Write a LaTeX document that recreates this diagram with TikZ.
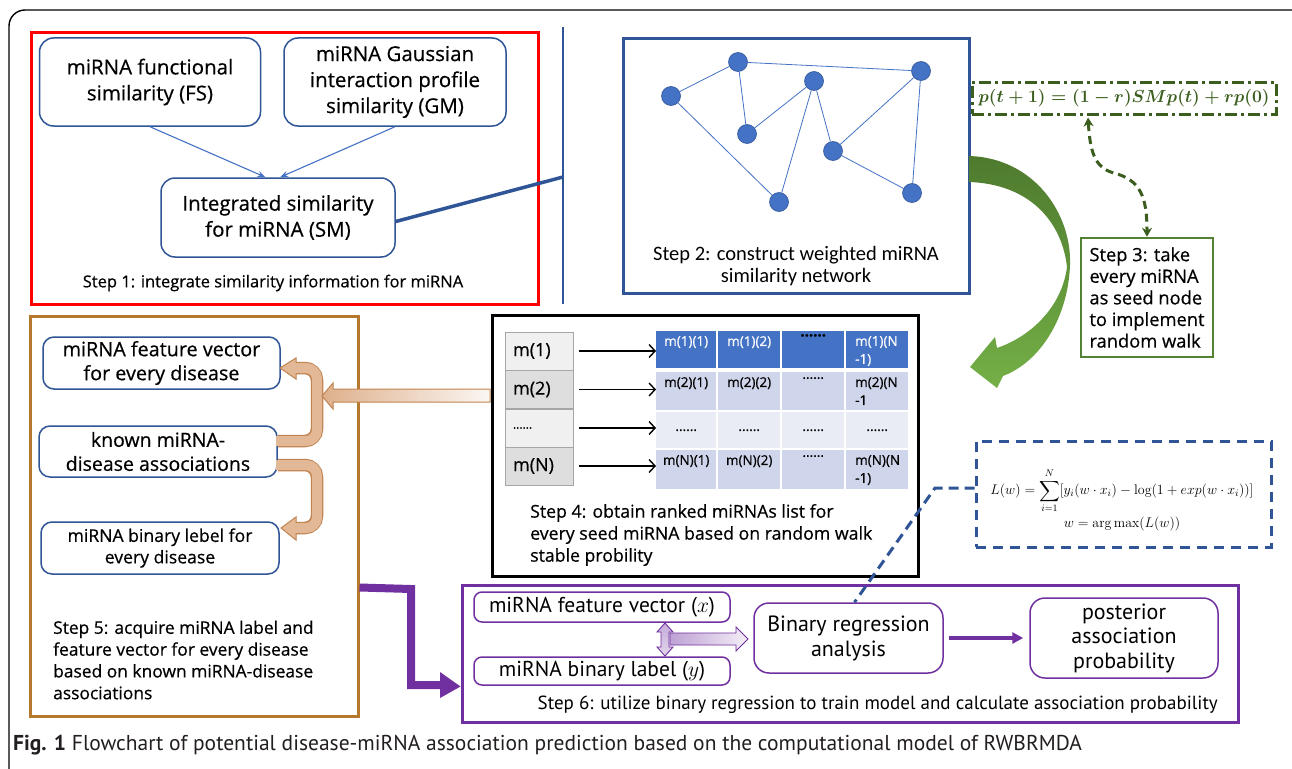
\RequirePackage{fix-cm}
\documentclass[tikz,border=0pt]{standalone}
\usepackage{amsmath}
\usepackage{fontspec}
\usetikzlibrary{arrows.meta,calc}
\newfontfamily\fyh{Open Sans}[RawFeature={embolden=0.5}]
\newfontfamily\fcal{Carlito}
\newfontfamily\fnar{PT Sans}
\definecolor{mblue}{HTML}{2F5597}
\definecolor{nblue}{HTML}{4472C4}
\definecolor{fgreen}{HTML}{3B5E1E}
\definecolor{sgreen}{HTML}{548235}
\definecolor{dgreen}{HTML}{4E7A2E}
\definecolor{lgreen}{HTML}{74B046}
\definecolor{brn}{HTML}{B5782C}
\definecolor{brline}{HTML}{C1834F}
\definecolor{brfill}{HTML}{E2B896}
\definecolor{purp}{HTML}{7030A0}
\definecolor{rowa}{HTML}{CFD5EA}
\definecolor{rowb}{HTML}{E9EBF5}
\definecolor{lcA}{HTML}{F0F0F0}
\definecolor{lcB}{HTML}{DEDEDE}
\definecolor{capc}{HTML}{231F20}
\tikzset{
  sbox/.style={draw=mblue, line width=1.5, rounded corners=14, align=center, inner sep=0,
    font=\fyh\fontsize{20.5}{26}\selectfont},
  s5box/.style={draw=mblue, line width=1.5, rounded corners=11, align=center, inner sep=0},
  pbox/.style={draw=purp, line width=1.5, rounded corners=8, align=center, inner sep=0,
    font=\fnar\fontsize{21.5}{24.5}\selectfont},
  barrow/.style={nblue, line width=1.1, -{Stealth[length=8,width=6]}},
  netn/.style={circle, fill=nblue, draw=mblue, line width=0.6, minimum size=19, inner sep=0},
  nete/.style={nblue, line width=0.8},
  lcell/.style={draw=gray!70, line width=0.8, minimum width=68, minimum height=38, inner sep=0,
    text width=52, align=left, font=\fyh\fontsize{18}{20}\selectfont},
  gcell/.style={inner sep=0, anchor=north west},
  cellt/.style={inner sep=0, font=\fyh\fontsize{13.5}{18}\selectfont},
  marrow/.style={black, line width=1.4, -{Straight Barb[length=6,width=13]}},
}
\begin{document}
\begin{tikzpicture}[x=1pt,y=-1pt]
\useasboundingbox (0,0) rectangle (1292,768);
\fill[white] (0,0) rectangle (1292,768);
\begin{scope}
\clip (0,0) rectangle (1292,768);
\draw[line width=1.4, rounded corners=16] (9,10) rectangle (1320,800);
\end{scope}

% ---------- Step 1 ----------
\node[draw=red, line width=3, minimum width=507, minimum height=271, inner sep=0] (s1) at (284.5,168.5) {};
\node[sbox, minimum width=221, minimum height=88] (fs) at (150,82) {miRNA functional\\similarity (FS)};
\node[sbox, minimum width=222, minimum height=88] (gm) at (395,82) {miRNA Gaussian\\interaction profile\\similarity (GM)};
\node[sbox, minimum width=234, minimum height=79] (sm) at (278,217.5) {Integrated similarity\\for miRNA (SM)};
\draw[barrow] (fs.south) -- ($(sm.north)+(-12.5,0)$);
\draw[barrow] (gm.south) -- ($(sm.north)+(2,0)$);
\node[font=\fyh\fontsize{16.5}{18}\selectfont, inner sep=0] (t1) at (273,283) {Step 1: integrate similarity information for miRNA};
\coordinate (vt) at (563,27);
\coordinate (vb) at (563,304);
\coordinate (vj) at (563,177);
\draw[mblue, line width=2.2] (vt) -- (vb);
\draw[mblue, line width=3.5] ($(sm.east)+(0,4)$) -- (vj);

% ---------- Step 2 ----------
\node[draw=mblue, line width=3, minimum width=346, minimum height=254, inner sep=0] (s2) at (796,166) {};
\node[netn] (n1) at (738,62) {};
\node[netn] (n2) at (671,96) {};
\node[netn] (n3) at (921,71) {};
\node[netn] (n4) at (814,81) {};
\node[netn] (n5) at (747,134) {};
\node[netn] (n6) at (833,151) {};
\node[netn] (n7) at (779,202) {};
\node[netn] (n8) at (912,193) {};
\draw[nete] (n2) -- (n1);
\draw[nete] (n1) -- (n3);
\draw[nete] (n1) -- (n5);
\draw[nete] (n5) -- (n4);
\draw[nete] (n4) -- (n7);
\draw[nete] (n2) -- (n7);
\draw[nete] (n4) -- (n6);
\draw[nete] (n6) -- (n3);
\draw[nete] (n6) -- (n8);
\draw[nete] (n3) -- (n8);
\node[font=\fcal\fontsize{20.5}{22}\selectfont, align=center, inner sep=0] (t2) at (796,266) {Step 2: construct weighted miRNA\\similarity network};

% ---------- formula / Step 3 ----------
\node[draw=fgreen, line width=3, dash pattern=on 12pt off 4pt on 3pt off 4pt, minimum width=304, minimum height=32, inner sep=0, text=fgreen, font=\fontsize{17.5}{20}\selectfont] (fb) at (1124,98) {$\boldsymbol{p(t+1)=(1-r)SMp(t)+rp(0)}$};
\node[draw=sgreen, line width=2.5, minimum width=132, minimum height=119, inner sep=0, align=left, font=\fyh\fontsize{18.3}{21.6}\selectfont] (s3) at (1147,297.5) {Step 3: take\\every miRNA\\as seed node\\to implement\\random walk};
\draw[fgreen, line width=3, dash pattern=on 8pt off 5pt, {Stealth[length=9,width=10]}-{Stealth[length=9,width=10]}] ($(fb.south)+(-36,2)$) .. controls (1090,150) and (1094,168) .. (1114,173) .. controls (1140,180) and (1147,196) .. (s3.north);
\shade[top color=dgreen, bottom color=lgreen, draw=none]
  (969,156) .. controls (1035,158) and (1072,215) .. (1070,265)
  .. controls (1068,318) and (1040,362) .. (1003,376) -- (997,388) -- (970,367) -- (995,337) -- (997,348)
  .. controls (1032,336) and (1062,306) .. (1067,267)
  .. controls (1062,222) and (1030,184) .. (969,182) -- cycle;

% ---------- Step 4 ----------
\node[draw=black, line width=3, minimum width=426, minimum height=261, inner sep=0] (s4) at (705,445.5) {};
\node[lcell, fill=lcA] (l1) at (539,351) {m(1)};
\node[lcell, fill=lcB] (l2) at (539,389.5) {m(2)};
\node[lcell, fill=lcA, font=\fyh\fontsize{12}{14}\selectfont] (l3) at (539,428) {......};
\node[lcell, fill=lcB] (l4) at (539,466) {m(N)};
\foreach \r/\y/\h/\c in {1/331/37/nblue, 2/372/38/rowa, 3/412/36/rowb, 4/450/39/rowa}{
  \foreach \k/\x/\w in {1/656/60, 2/718/62, 3/782/62, 4/846/62}{
    \node[gcell, fill=\c, minimum width=\w, minimum height=\h] (c\r\k) at (\x,\y) {};
  }
}
\node[cellt, text=white, anchor=north] (t11) at ($(c11.north)+(0,5)$) {m(1)(1)};
\node[cellt, text=white, anchor=north] (t12) at ($(c12.north)+(0,5)$) {m(1)(2)};
\node[cellt, text=black, anchor=north, font=\fyh\bfseries\fontsize{15}{18}\selectfont] (t13) at ($(c13.north)+(0,3)$) {......};
\node[cellt, text=white, anchor=north west, align=left] (t14) at ($(c14.north west)+(9,5)$) {m(1)(N\\-1)};
\node[cellt, anchor=north] (t21) at ($(c21.north)+(0,5)$) {m(2)(1)};
\node[cellt, anchor=north] (t22) at ($(c22.north)+(0,5)$) {m(2)(2)};
\node[cellt, anchor=north] (t23) at ($(c23.north)+(0,5)$) {......};
\node[cellt, anchor=north west, align=left] (t24) at ($(c24.north west)+(9,5)$) {m(2)(N\\-1};
\node[cellt] (t31) at (c31) {......};
\node[cellt] (t32) at (c32) {......};
\node[cellt] (t33) at (c33) {......};
\node[cellt] (t34) at (c34) {......};
\node[cellt, anchor=north] (t41) at ($(c41.north)+(0,5)$) {m(N)(1)};
\node[cellt, anchor=north] (t42) at ($(c42.north)+(0,5)$) {m(N)(2)};
\node[cellt, anchor=north] (t43) at ($(c43.north)+(0,5)$) {......};
\node[cellt, anchor=north west, align=left] (t44) at ($(c44.north west)+(9,5)$) {m(N)(N\\-1)};
\draw[marrow] ($(l1.east)+(6,0)$) -- (c11.west |- l1.east);
\draw[marrow] ($(l2.east)+(6,0)$) -- (c21.west |- l2.east);
\draw[marrow] ($(l3.east)+(6,0)$) -- (c31.west |- l3.east);
\draw[marrow] ($(l4.east)+(6,0)$) -- (c41.west |- l4.east);
\node[font=\fyh\fontsize{17.7}{22}\selectfont, align=left, anchor=west, inner sep=0] (t4) at (530,535) {Step 4: obtain ranked miRNAs list for\\every seed miRNA based on random walk\\stable probility};

% ---------- Step 5 ----------
\node[draw=brn, line width=3, minimum width=328, minimum height=400, inner sep=0] (s5) at (194,516) {};
\node[s5box, minimum width=237, minimum height=52, font=\fyh\fontsize{19.8}{24}\selectfont] (fa) at (161.5,363) {miRNA feature vector\\for every disease};
\node[s5box, minimum width=238, minimum height=51, font=\fyh\fontsize{19.5}{24}\selectfont] (kb) at (158,451.5) {known miRNA-\\disease associations};
\node[s5box, minimum width=238, minimum height=52, font=\fyh\fontsize{17.6}{21.5}\selectfont] (lc) at (160,548) {miRNA binary lebel for\\every disease};
\node[font=\fyh\fontsize{17.4}{21.8}\selectfont, align=left, anchor=west, inner sep=0] (t5) at (53,660) {Step 5: acquire miRNA label and\\feature vector for every disease\\based on known miRNA-disease\\associations};
% U arrows
\draw[brline, line width=12.5, rounded corners=12] (278,441) -- (317,441) -- (317,368) -- (295,368);
\draw[brfill, line width=10, rounded corners=11] (276,441) -- (317,441) -- (317,368) -- (294,368);
\fill[brfill] (296,358) -- (280,368) -- (296,379) -- cycle;
\draw[brline, line width=1] (296,363) -- (296,358) -- (280,368) -- (296,379) -- (296,373);
\draw[brline, line width=12.5, rounded corners=12] (278,465) -- (317,465) -- (317,528) -- (295,528);
\draw[brfill, line width=10, rounded corners=11] (276,465) -- (317,465) -- (317,528) -- (294,528);
\fill[brfill] (296,517) -- (281,528) -- (296,540) -- cycle;
\draw[brline, line width=1] (296,523) -- (296,517) -- (281,528) -- (296,540) -- (296,533);
% wide arrow from step 4
\shade[left color=brfill!85!brline, right color=brfill!12, draw=brline, line width=1]
  (490,389) -- (333,389) -- (333,383) -- (322,396) -- (333,409) -- (333,402) -- (490,402) -- cycle;

% ---------- Step 6 ----------
\node[draw=purp, line width=3, minimum width=776, minimum height=137, inner sep=0] (s6) at (850,653.5) {};
\node[pbox, minimum width=256, minimum height=30] (fv) at (602,607) {miRNA feature vector ($x$)};
\node[pbox, minimum width=256, minimum height=28] (bl) at (602,671) {miRNA binary label ($y$)};
\node[pbox, rounded corners=15, minimum width=189, minimum height=70, font=\fnar\fontsize{22}{25}\selectfont] (br) at (848.5,638) {Binary regression\\analysis};
\node[pbox, rounded corners=15, minimum width=188, minimum height=80, font=\fnar\fontsize{22}{24.5}\selectfont] (pp) at (1124,638) {posterior\\association\\probability};
\draw[purp, line width=3.5, -{Triangle[length=11,width=11]}] ($(br.east)+(5,0)$) -- ($(pp.west)+(-6,0)$);
\node[font=\fnar\fontsize{19}{20}\selectfont, anchor=east, inner sep=0] (t6) at (1218,705) {Step 6: utilize binary regression to train model and calculate association probability};
\shade[left color=purp!45, right color=purp!8, draw=purp, line width=0.9]
  (670,633) -- (736,633) -- (736,627) -- (748,639) -- (736,651) -- (736,645) -- (670,645) -- cycle;
\shade[top color=purp!40, bottom color=purp!20, draw=purp, line width=0.9]
  (665,623) -- (673,632) -- (669,632) -- (669,647) -- (673,647) -- (665,656) -- (657,647) -- (661,647) -- (661,632) -- (657,632) -- cycle;
\coordinate (sfa) at ($(s5.north east)+(0,273)$);
\draw[purp, line width=8] (sfa) -- (411,589) -- (411,685) -- (442,685);
\fill[purp] (440,672) -- ($(s6.south west)+(0,-37)$) -- (440,698) -- cycle;

% ---------- logistic formula ----------
\node[draw=mblue, line width=3, dash pattern=on 10pt off 7pt, minimum width=295, minimum height=106, inner sep=0] (lw) at (1123.5,494) {};
\node[inner sep=0, align=center, font=\fontsize{14}{16}\selectfont] (fl) at (1122,500) {$L(w)=\displaystyle\sum_{i=1}^{N}[y_i(w\cdot x_i)-\log(1+exp(w\cdot x_i))]$\\[3pt]$w=\arg\max(L(w))$};
\coordinate (lk) at (935,488);
\draw[mblue, line width=3, dash pattern=on 10pt off 6pt] ($(lw.west)+(0,-6)$) -- (lk) -- ($(br.north)+(6,0)$);

% ---------- caption ----------
\node[font=\fnar\fontsize{21.5}{22}\selectfont, text=capc, anchor=west, inner sep=0] (cap) at (13,745) {\textbf{Fig. 1} Flowchart of potential disease-miRNA association prediction based on the computational model of RWBRMDA};
\end{tikzpicture}
\end{document}
